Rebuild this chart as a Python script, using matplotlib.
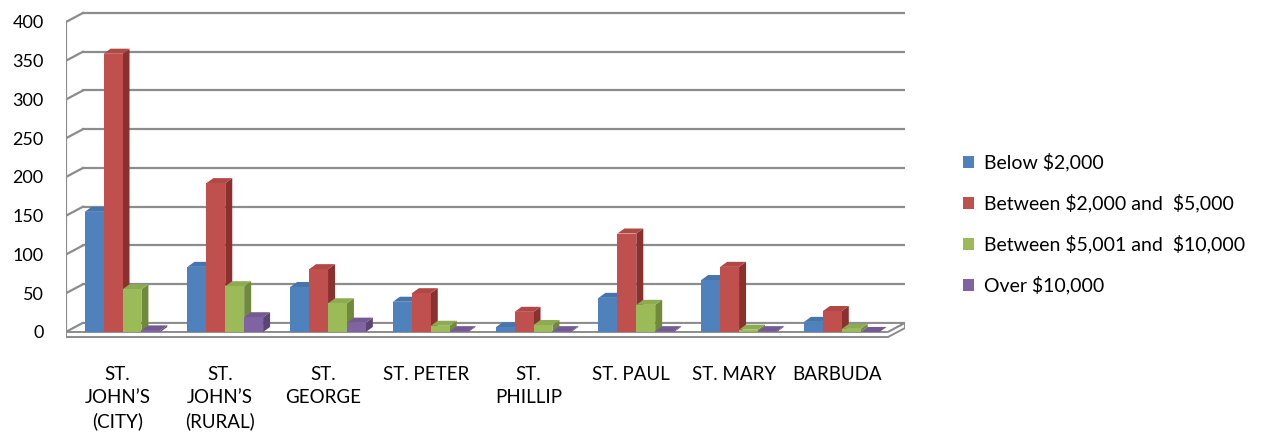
import numpy as np
import matplotlib
matplotlib.use("Agg")
import matplotlib.pyplot as plt
from matplotlib.patches import Polygon

plt.rcParams['font.family'] = ['Lato', 'DejaVu Sans']

categories = ["ST.\nJOHN\u2019S\n(CITY)", "ST.\nJOHN\u2019S\n(RURAL)", "ST.\nGEORGE",
              "ST. PETER", "ST.\nPHILLIP", "ST. PAUL", "ST. MARY", "BARBUDA"]
series_names = [r"Below \$2,000", r"Between \$2,000 and  \$5,000",
                r"Between \$5,001 and  \$10,000", r"Over \$10,000"]
below_2000 = [155, 84, 58, 39, 6, 44, 67, 13]
from_2000_to_5000 = [359, 192, 81, 50, 26, 127, 84, 27]
from_5001_to_10000 = [55, 59, 37, 8, 9, 35, 3, 4]
over_10000 = [2, 19, 12, 1, 1, 1, 1, 0]
yticks = [0, 50, 100, 150, 200, 250, 300, 350, 400]

series = [below_2000, from_2000_to_5000, from_5001_to_10000, over_10000]
front = ["#4F81BD", "#C0504D", "#9BBB59", "#8064A2"]
side = ["#36608F", "#8C302E", "#6F8A3B", "#5B4578"]
top = ["#4775AB", "#B04845", "#8DAB50", "#735A93"]

# 3d look parameters (data units)
dx, dy = 0.165, 11.6      # wall depth
bdx, bdy = 0.068, 6.5     # bar depth
w = 0.184
shift = 0.05
xl, xr = -0.5, 7.5

fig = plt.figure(figsize=(12.73, 4.41), dpi=100)
ax = fig.add_axes([66 / 1273, (441 - 345) / 441, (905 - 66) / 1273, (345 - 8) / 441])
ax.set_xlim(xl, xr + dx)
ax.set_ylim(-16.8, 418)
for s in ax.spines.values():
    s.set_visible(False)

grid_c = "#8C8C8C"
# back wall gridlines and left wall
for v in yticks:
    ax.plot([xl + dx, xr + dx], [v + dy, v + dy], color=grid_c, lw=1.6, zorder=1)
    ax.plot([xl, xl + dx], [v, v + dy], color=grid_c, lw=1.6, zorder=1)
ax.plot([xl, xl], [-6.5, 400], color=grid_c, lw=1.6, zorder=1)

# floor
ax.add_patch(Polygon([(xl, 0), (xr, 0), (xr + dx, dy), (xl + dx, dy)],
                     closed=True, fc="white", ec=grid_c, lw=1.4, zorder=2))
ax.add_patch(Polygon([(xl, -6.5), (xr, -6.5), (xr + dx, dy - 6.5), (xr + dx, dy), (xr, 0), (xl, 0)],
                     closed=True, fc="white", ec=grid_c, lw=1.4, zorder=2))

x = np.arange(len(categories))
z = 3
handles = []
for i in range(len(categories)):
    for k, vals in enumerate(series):
        v = vals[i]
        x0 = i + shift + (k - 2) * w
        ax.add_patch(Polygon([(x0 + w, 0), (x0 + w + bdx, bdy), (x0 + w + bdx, v + bdy), (x0 + w, v)],
                             closed=True, fc=side[k], ec="none", zorder=z))
        ax.add_patch(Polygon([(x0, v), (x0 + bdx, v + bdy), (x0 + w + bdx, v + bdy), (x0 + w, v)],
                             closed=True, fc=top[k], ec="none", zorder=z))
        b = ax.bar(x0, v, width=w, align="edge", color=front[k], zorder=z + 1)
        if i == 0:
            handles.append(b)
        z += 2

ax.set_yticks(yticks)
ax.set_yticklabels([str(t) for t in yticks], fontsize=13)
ax.set_xticks(x)
ax.set_xticklabels(categories, fontsize=13.5, linespacing=1.42)
ax.tick_params(axis="both", length=0)
ax.tick_params(axis="y", pad=16)
ax.tick_params(axis="x", pad=15)

fig.legend(handles, series_names, loc="center left", bbox_to_anchor=(963 / 1273, 1 - 224 / 441),
           frameon=False, fontsize=14, handlelength=0.57, handleheight=0.57,
           handletextpad=0.5, labelspacing=1.15, borderpad=0, borderaxespad=0)

fig.savefig("out.png", dpi=100)
